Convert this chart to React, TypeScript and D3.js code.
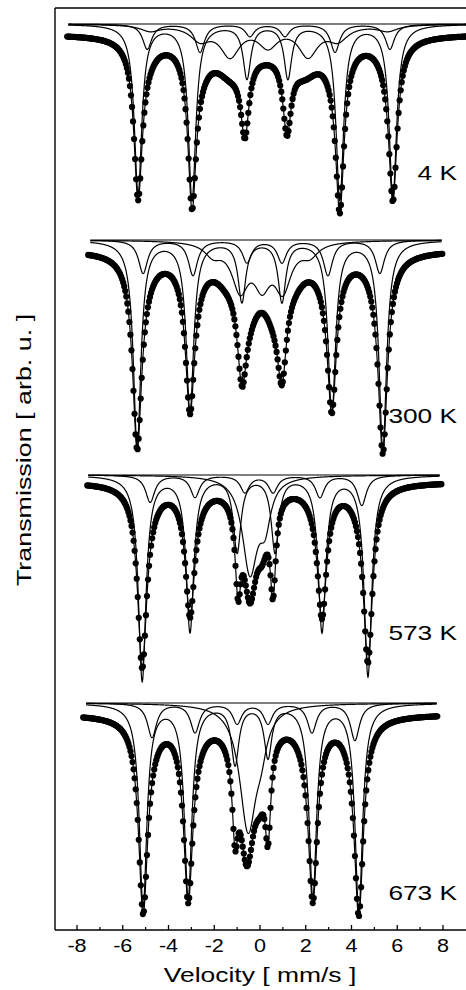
import React from 'react'
import * as d3 from 'd3'

// velocity axis
const velocityTicks = [-8, -6, -4, -2, 0, 2, 4, 6, 8]
const minorTicks = [-7, -5, -3, -1, 1, 3, 5, 7]
const temperatures = ['4 K', '300 K', '573 K', '673 K']

// baselines (arb. u.) of the measured spectrum and of the sub-spectra
const dataBaseline = [896, 680, 448, 216]
const compBaseline = [906, 690, 455, 227]
// velocity span covered by the measurement / the sub-spectra
const dataSpan = [[-8.43, 9.3], [-7.51, 7.99], [-7.55, 7.95], [-7.73, 7.77]]
const compSpan = [[-8.38, 9.3], [-7.42, 7.95], [-7.51, 7.86], [-7.6, 7.73]]

// lines: [velocity mm/s, depth arb. u., half width mm/s]
const fit4K = [
  [-5.33, 150, 0.22], [-2.97, 152, 0.22], [-0.66, 75, 0.22], [1.18, 75, 0.22], [3.49, 152, 0.22], [5.81, 150, 0.22],
  [-5.02, 15, 0.61], [-2.62, 18, 0.61], [-1.3, 29, 0.8], [0.26, 8, 0.87], [1.95, 29, 0.8], [3.28, 18, 0.61], [5.59, 15, 0.61],
]
const siteA4K = [[-5.33, 168, 0.2], [-2.97, 175, 0.2], [-0.57, 53, 0.2], [1.22, 53, 0.2], [3.49, 175, 0.2], [5.81, 172, 0.2]]
const siteB4K = [[-4.93, 25, 0.24], [-2.62, 28, 0.24], [-0.44, 12, 0.24], [1.09, 12, 0.24], [3.28, 28, 0.24], [5.68, 25, 0.24]]
const broad4K = [[-4.8, 6, 0.52], [-2.62, 14, 0.52], [-1.31, 30, 0.52], [0.35, 20, 0.52], [2.1, 30, 0.52], [3.41, 14, 0.52], [5.59, 6, 0.52]]

const fit300K = [
  [-5.37, 183, 0.24], [-3.06, 140, 0.24], [-0.79, 86, 0.24], [0.96, 86, 0.24], [3.14, 140, 0.24], [5.37, 185, 0.24],
  [-5.11, 15, 0.6], [-2.93, 15, 0.6], [2.97, 15, 0.6], [5.24, 15, 0.6],
  [-1.5, 12, 0.6], [1.5, 12, 0.6], [-0.5, 40, 0.6], [0.6, 40, 0.6],
]
const siteA300K = [[-5.37, 205, 0.2], [-3.06, 170, 0.2], [-0.79, 60, 0.2], [0.96, 60, 0.2], [3.14, 172, 0.2], [5.37, 208, 0.2]]
const siteB300K = [[-5.11, 33, 0.24], [-2.93, 35, 0.24], [-0.57, 22, 0.24], [0.96, 22, 0.24], [2.97, 35, 0.24], [5.24, 33, 0.24]]
const broad300K = [[-2.05, 12, 0.44], [-0.87, 45, 0.44], [0.09, 38, 0.44], [1.0, 45, 0.44], [2.18, 12, 0.44]]

const fit573K = [
  [-5.15, 173, 0.24], [-3.06, 118, 0.24], [2.71, 119, 0.24], [4.72, 167, 0.24],
  [-0.96, 80, 0.15], [0.57, 90, 0.15], [-0.44, 100, 0.35], [0.1, 40, 0.3],
  [-4.9, 12, 0.6], [-2.9, 12, 0.6], [2.6, 12, 0.6], [4.5, 12, 0.6],
]
const siteA573K = [[-5.15, 205, 0.2], [-3.06, 155, 0.2], [-1.0, 75, 0.2], [0.66, 75, 0.2], [2.71, 155, 0.2], [4.72, 200, 0.2]]
const siteB573K = [[-4.8, 27, 0.24], [-2.84, 22, 0.24], [-0.66, 17, 0.24], [0.57, 17, 0.24], [2.62, 22, 0.24], [4.45, 30, 0.24]]
const broad573K = [[-0.44, 95, 0.4], [0.22, 40, 0.3]]

const fit673K = [
  [-5.11, 186, 0.24], [-3.14, 170, 0.24], [2.31, 170, 0.24], [4.32, 187, 0.24],
  [-1.09, 78, 0.15], [0.35, 88, 0.15], [-0.57, 130, 0.4], [0.0, 40, 0.3],
  [-4.8, 12, 0.6], [-2.9, 12, 0.6], [2.1, 12, 0.6], [4.1, 12, 0.6],
]
const siteA673K = [[-5.11, 202, 0.2], [-3.14, 192, 0.2], [-1.09, 59, 0.2], [0.35, 52, 0.2], [2.31, 192, 0.2], [4.32, 207, 0.2]]
const siteB673K = [[-4.72, 34, 0.24], [-2.84, 29, 0.24], [-1.0, 20, 0.24], [0.35, 20, 0.24], [2.27, 29, 0.24], [4.15, 37, 0.24]]
const broad673K = [[-0.52, 125, 0.45], [0.05, 25, 0.3]]

const fits = [fit4K, fit300K, fit573K, fit673K]
const subSpectra = [
  [siteA4K, siteB4K, broad4K],
  [siteA300K, siteB300K, broad300K],
  [siteA573K, siteB573K, broad573K],
  [siteA673K, siteB673K, broad673K],
]

const labelBaseline = [180, 423, 640, 900]

function absorption(lines, v) {
  let s = 0
  for (const [p, d, w] of lines) {
    const u = (v - p) / w
    s += d / (1 + u * u)
  }
  return s
}

const font = '"Liberation Sans", Arial, Helvetica, sans-serif'

export default function App() {
  const width = 466
  const height = 990
  const left = 55
  const top = 8
  const bottom = 930

  const x = d3.scaleLinear().domain([-8, 8]).range([77, 443])
  const y = d3.scaleLinear().domain([0, 922]).range([bottom, top])

  const line = d3.line<[number, number]>()
    .x(d => x(d[0]))
    .y(d => y(d[1]))

  const panels = fits.map((fit, i) => {
    const [d0, d1] = dataSpan[i]
    const [c0, c1] = compSpan[i]
    const fine = d3.range(d0, d1, 0.01)
    const fitPath = line(fine.map(v => [v, dataBaseline[i] - absorption(fit, v)]))
    const dots = d3.range(d0, d1, 0.045).map(v => [v, dataBaseline[i] - absorption(fit, v)])
    const compFine = d3.range(c0, c1, 0.01)
    const comps = subSpectra[i].map(sub =>
      line(compFine.map(v => [v, compBaseline[i] - absorption(sub, v)]))
    )
    // plain baseline drawn across the whole span
    comps.push(line([[c0, compBaseline[i]], [c1, compBaseline[i]]]))
    return { fitPath, dots, comps }
  })

  return (
    <svg width={width} height={height} style={{ position: 'absolute', left: 0, top: 0, background: '#fff' }}>
      <defs>
        <clipPath id="frame">
          <rect x={left} y={top} width={width - left + 10} height={bottom - top} />
        </clipPath>
      </defs>
      <rect x={0} y={0} width={width} height={height} fill="#fff" />

      <g clipPath="url(#frame)">
        {panels.map((p, i) => (
          <g key={i}>
            {p.comps.map((d, j) => (
              <path key={j} d={d || ''} fill="none" stroke="#000" strokeWidth={1.2} />
            ))}
            <path d={p.fitPath || ''} fill="none" stroke="#000" strokeWidth={1.2} />
            {p.dots.map((d, j) => (
              <circle key={j} cx={x(d[0])} cy={y(d[1])} r={3.1} fill="#000" />
            ))}
          </g>
        ))}
      </g>

      {/* frame */}
      <line x1={left} x2={width + 5} y1={top} y2={top} stroke="#000" strokeWidth={1.4} />
      <line x1={left} x2={left} y1={top} y2={bottom} stroke="#000" strokeWidth={1.4} />
      <line x1={left} x2={width + 5} y1={bottom} y2={bottom} stroke="#000" strokeWidth={1.5} />

      {velocityTicks.map(t => (
        <g key={'t' + t}>
          <line x1={x(t)} x2={x(t)} y1={bottom} y2={bottom - 5} stroke="#000" strokeWidth={1.3} />
          <text transform={`translate(${x(t)},952) scale(1.2,1)`} textAnchor="middle" fontSize={18} fontFamily={font}>{t}</text>
        </g>
      ))}
      {minorTicks.map(t => (
        <line key={'m' + t} x1={x(t)} x2={x(t)} y1={bottom} y2={bottom - 3} stroke="#000" strokeWidth={1.2} />
      ))}

      {temperatures.map((t, i) => (
        <text key={t} transform={`translate(457,${labelBaseline[i]}) scale(1.25,1)`} textAnchor="end" fontSize={21} fontFamily={font}>{t}</text>
      ))}

      <text transform="translate(260,982) scale(1.26,1)" textAnchor="middle" fontSize={21} fontFamily={font}>Velocity [ mm/s ]</text>
      <text transform="translate(31,450) rotate(-90) scale(1.28,1)" textAnchor="middle" fontSize={21} fontFamily={font}>Transmission [ arb. u. ]</text>
    </svg>
  )
}
